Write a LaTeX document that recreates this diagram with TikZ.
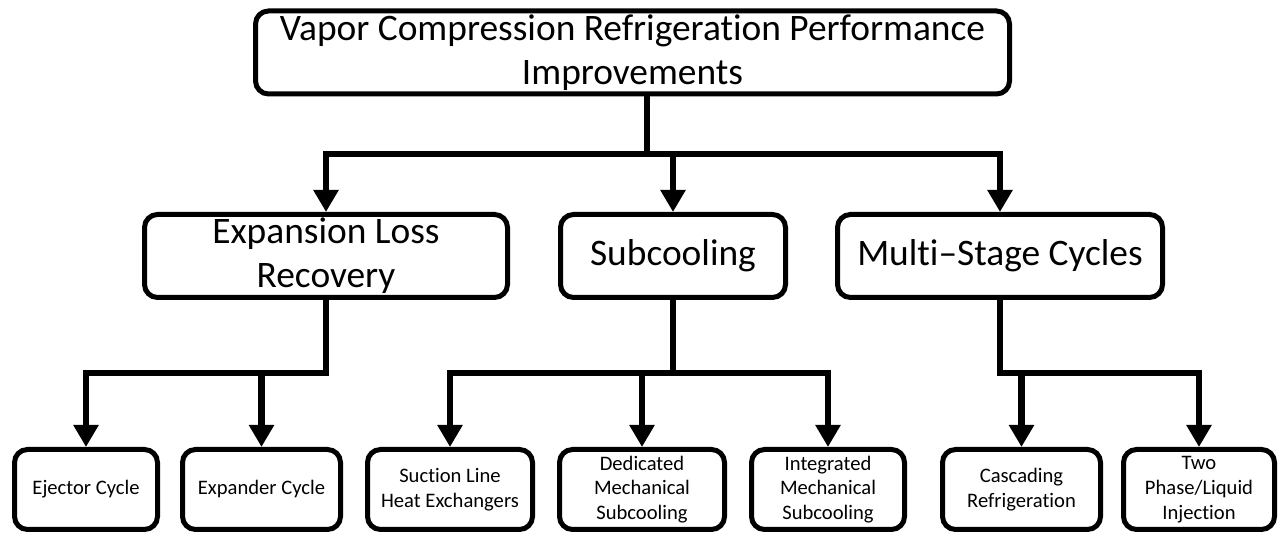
\documentclass[tikz,border=0pt]{standalone}
\usepackage{fontspec}
\setmainfont{Carlito}[Ligatures={TeX,NoCommon}]
\usepackage{tikz}
\usetikzlibrary{arrows.meta, positioning}

\begin{document}
\begin{tikzpicture}[
  box/.style={draw, rounded corners=6.5pt, line width=2.5pt, align=center, inner sep=1pt},
  bigbox/.style={box, font=\fontsize{18.7}{22}\selectfont, minimum height=41.5pt},
  smallbox/.style={box, font=\fontsize{10.3}{12.4}\selectfont, minimum height=40pt},
  link/.style={line width=3.2pt},
  arr/.style={link, -{Triangle[width=12pt,length=11pt]}},
  twoarr/.style={link, {Triangle[width=12pt,length=11pt]}-{Triangle[width=12pt,length=11pt]}}
]
\useasboundingbox (0,0) rectangle (640pt,267.5pt);

% top level
\node[bigbox, minimum width=377pt] (top) at (316.25pt,241.25pt)
  {Vapor Compression Refrigeration Performance\\Improvements};

% second level
\node[bigbox, minimum width=181.5pt] (elr) at (163pt,139.5pt) {Expansion Loss\\Recovery};
\node[bigbox, minimum width=112.5pt, right=24pt of elr] (sub) {Subcooling};
\node[bigbox, minimum width=162.5pt, right=23.5pt of sub] (multi) {Multi--Stage Cycles};

% third level
\node[smallbox, minimum width=71.5pt] (ejector) at (43pt,22.75pt) {Ejector Cycle};
\node[smallbox, minimum width=79pt, right=10pt of ejector] (expander) {Expander Cycle};
\node[smallbox, minimum width=82.5pt, right=11pt of expander] (suction) {Suction Line\\Heat Exchangers};
\node[smallbox, minimum width=82.5pt, right=11pt of suction] (dedicated) {Dedicated\\Mechanical\\Subcooling};
\node[smallbox, minimum width=76.5pt, right=11pt of dedicated] (integrated) {Integrated\\Mechanical\\Subcooling};
\node[smallbox, minimum width=79pt, right=16.5pt of integrated] (cascading) {Cascading\\Refrigeration};
\node[smallbox, minimum width=75.5pt, right=9pt of cascading] (twophase) {Two\\Phase/Liquid\\Injection};

% heights of the horizontal bars
\coordinate (upbar) at (0,190.5pt);
\coordinate (lowbar) at (0,81pt);

% top -> second level
\draw[link] ([xshift=7.25pt]top.south) -- ([xshift=7.25pt]top.south |- upbar);
\draw[twoarr] (elr.north) |- (multi.north |- upbar) -- (multi.north);
\draw[arr] (sub.north |- upbar) -- (sub.north);

% expansion loss recovery
\draw[arr] (elr.south) |- (ejector.north |- lowbar) -- (ejector.north);
\draw[arr] (expander.north |- lowbar) -- (expander.north);

% subcooling
\draw[link] (sub.south) -- (sub.south |- lowbar);
\draw[twoarr] (suction.north) |- (integrated.north |- lowbar) -- (integrated.north);
\draw[arr] (dedicated.north |- lowbar) -- (dedicated.north);

% multi-stage
\draw[arr] (multi.south) |- (twophase.north |- lowbar) -- (twophase.north);
\draw[arr] (cascading.north |- lowbar) -- (cascading.north);
\end{tikzpicture}
\end{document}
